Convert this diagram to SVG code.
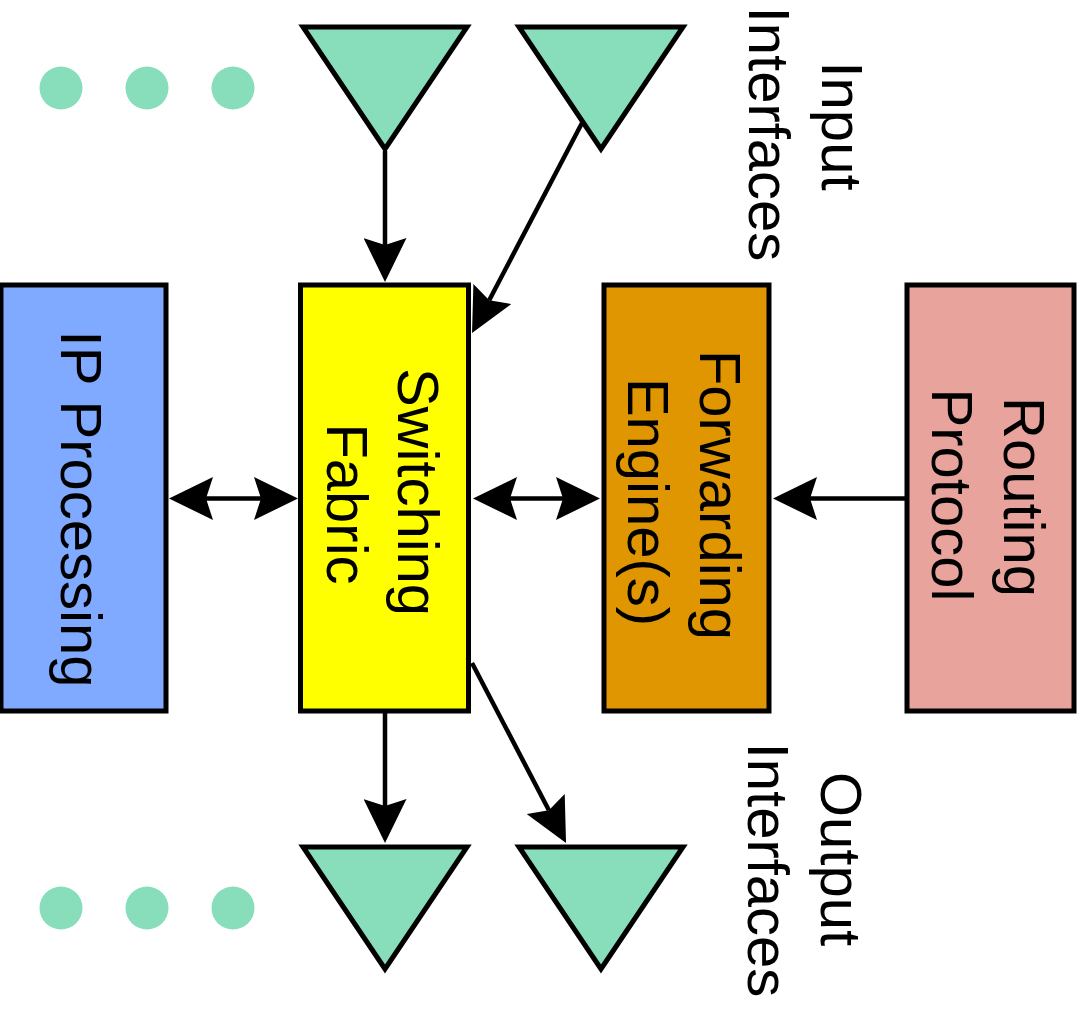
<svg xmlns="http://www.w3.org/2000/svg" width="1085" height="1012" viewBox="0 0 1085 1012">
  <style>
    .box { stroke: #000; stroke-width: 5; }
    .tri { fill: #88DDBB; stroke: #000; stroke-width: 5; stroke-linejoin: miter; }
    .dot { fill: #88DDBB; }
    .lbl { font-family: "Liberation Sans", Arial, sans-serif; font-size: 58px; fill: #000; text-anchor: middle; }
    .wire { stroke: #000; stroke-width: 4.5; fill: none; }
    .one { marker-end: url(#head); }
    .two { marker-start: url(#head); marker-end: url(#head); }
  </style>
  <defs>
    <marker id="head" markerUnits="userSpaceOnUse" viewBox="0 0 44 43" refX="7" refY="21.5" markerWidth="44" markerHeight="43" orient="auto-start-reverse">
      <path d="M0,0 L44,21.5 L0,43 L7,21.5 Z" fill="#000"/>
    </marker>
  </defs>

  <rect width="1085" height="1012" fill="#fff"/>

  <!-- ellipsis dots for further interfaces -->
  <g id="more-inputs">
    <circle class="dot" cx="61" cy="88" r="21.5"/>
    <circle class="dot" cx="147" cy="88" r="21.5"/>
    <circle class="dot" cx="233" cy="88" r="21.5"/>
  </g>
  <g id="more-outputs">
    <circle class="dot" cx="61" cy="908" r="21.5"/>
    <circle class="dot" cx="147" cy="908" r="21.5"/>
    <circle class="dot" cx="233" cy="908" r="21.5"/>
  </g>

  <!-- input interfaces -->
  <g id="input-1"><polygon class="tri" points="303,27 467,27 385,149"/></g>
  <g id="input-2"><polygon class="tri" points="519,27 683,27 601,149"/></g>
  <g id="input-label">
    <text class="lbl" transform="translate(822,0) rotate(90)"><tspan x="126" y="0">Input</tspan><tspan x="134" y="73">Interfaces</tspan></text>
  </g>

  <!-- output interfaces -->
  <g id="output-1"><polygon class="tri" points="303,847 467,847 385,969"/></g>
  <g id="output-2"><polygon class="tri" points="519,847 683,847 601,969"/></g>
  <g id="output-label">
    <text class="lbl" transform="translate(821,0) rotate(90)"><tspan x="859" y="0">Output</tspan><tspan x="870" y="73">Interfaces</tspan></text>
  </g>

  <!-- processing blocks -->
  <g id="ip-processing">
    <rect class="box" x="1" y="285" width="165" height="426" fill="#80AAFF"/>
    <text class="lbl" transform="translate(61,0) rotate(90)"><tspan x="509" y="0">IP Processing</tspan></text>
  </g>
  <g id="switching-fabric">
    <rect class="box" x="300.5" y="285" width="168" height="426" fill="#FFFF00"/>
    <text class="lbl" transform="translate(398,0) rotate(90)"><tspan x="492" y="0">Switching</tspan><tspan x="504" y="71">Fabric</tspan></text>
  </g>
  <g id="forwarding-engine">
    <rect class="box" x="604" y="285" width="165" height="426" fill="#E09600"/>
    <text class="lbl" transform="translate(700,0) rotate(90)"><tspan x="495" y="0">Forwarding</tspan><tspan x="502" y="72">Engine(s)</tspan></text>
  </g>
  <g id="routing-protocol">
    <rect class="box" x="907" y="285" width="167" height="426" fill="#E8A49C"/>
    <text class="lbl" transform="translate(1004,0) rotate(90)"><tspan x="497" y="0">Routing</tspan><tspan x="495" y="72">Protocol</tspan></text>
  </g>

  <!-- connectors -->
  <g id="connectors">
    <line class="wire one" x1="385" y1="151" x2="385" y2="245"/>
    <line class="wire one" x1="582" y1="123" x2="489.2" y2="300.2"/>
    <line class="wire two" x1="206" y1="498.5" x2="261" y2="498.5"/>
    <line class="wire two" x1="510" y1="498.5" x2="563" y2="498.5"/>
    <line class="wire one" x1="905" y1="498.5" x2="810" y2="498.5"/>
    <line class="wire one" x1="385" y1="713" x2="385" y2="806"/>
    <line class="wire one" x1="472" y1="663" x2="548.9" y2="810.2"/>
  </g>
</svg>
